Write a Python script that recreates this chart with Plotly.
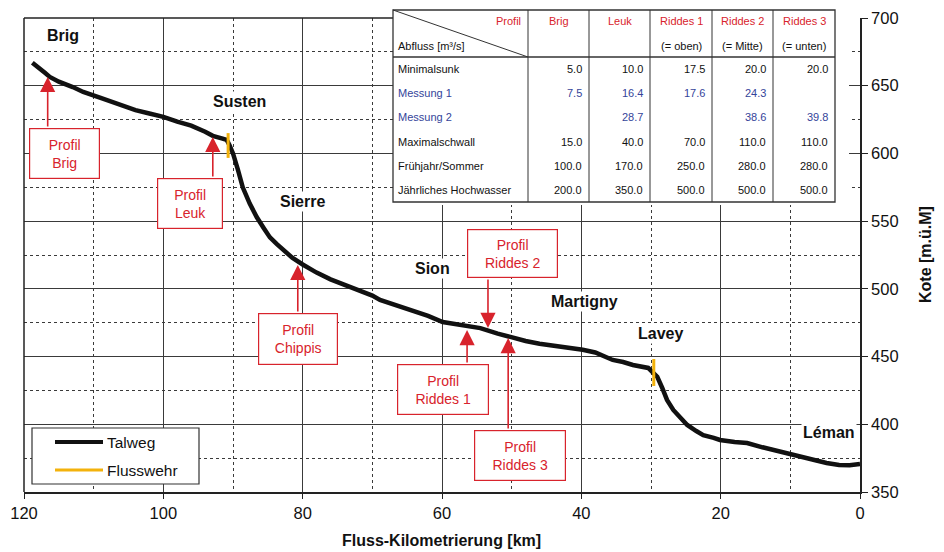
import plotly.graph_objects as go

# ---------------- data ----------------
talweg_km = [118.8, 118.0, 117.0, 116.3, 115.0, 113.0, 111.5, 109.0, 106.6, 104.0, 102.0, 100.0,
             98.0, 96.0, 94.0, 92.9, 91.5, 90.9, 90.5, 90.0, 89.3, 88.6, 87.6, 86.6, 85.6, 84.7,
             83.7, 82.8, 81.5, 80.0, 78.0, 76.0, 74.0, 72.0, 70.0, 68.9, 66.0, 64.2, 62.0, 59.9,
             58.0, 56.0, 54.5, 52.0, 49.8, 48.0, 46.0, 44.0, 42.0, 39.8, 38.0, 36.0, 35.5, 34.0,
             32.6, 30.4, 29.6, 29.1, 28.4, 27.7, 26.8, 25.5, 24.8, 23.5, 22.5, 21.0, 20.1, 18.0,
             16.2, 14.0, 12.5, 10.0, 8.6, 6.5, 4.8, 3.0, 1.5, 0.0]
talweg_elev = [667.0, 664.0, 659.5, 656.5, 653.0, 649.0, 645.4, 641.0, 636.6, 632.0, 629.5, 627.0,
               623.5, 620.5, 616.0, 613.0, 611.0, 610.0, 606.0, 600.0, 588.0, 575.0, 563.0, 553.0,
               545.0, 538.0, 533.0, 528.7, 523.0, 518.0, 512.0, 507.0, 503.0, 499.0, 495.0, 491.8,
               487.0, 484.4, 480.0, 475.5, 474.0, 473.0, 471.0, 467.0, 463.7, 461.5, 459.5, 458.3,
               456.5, 455.0, 453.0, 449.0, 447.5, 446.0, 443.8, 441.6, 438.0, 435.0, 427.0, 418.0,
               410.6, 403.0, 399.5, 395.0, 392.0, 390.0, 388.4, 387.0, 386.2, 383.0, 381.0, 378.0,
               375.9, 373.5, 371.4, 370.0, 369.8, 370.7]

weir_km = [90.7, 29.6]
weir_top = [615.0, 448.2]
weir_bottom = [596.7, 428.3]

towns = ["Brig", "Susten", "Sierre", "Sion", "Martigny", "Lavey", "Léman"]
town_km = [114.4, 89.0, 80.0, 61.4, 39.5, 28.7, 4.45]
town_elev = [686.8, 638.0, 564.2, 515.4, 490.3, 467.4, 394.3]

profile_names = ["Brig", "Leuk", "Chippis", "Riddes 1", "Riddes 2", "Riddes 3"]
profile_km = [116.6, 92.9, 80.7, 56.4, 53.4, 50.5]
profile_tip = [656.5, 612.2, 517.7, 469.6, 471.1, 463.7]

table_cols = ["Brig", "Leuk", "Riddes 1", "Riddes 2", "Riddes 3"]
table_subs = ["", "", "(= oben)", "(= Mitte)", "(= unten)"]
table_rows = ["Minimalsunk", "Messung 1", "Messung 2", "Maximalschwall",
              "Frühjahr/Sommer", "Jährliches Hochwasser"]
row_minimalsunk = [5.0, 10.0, 17.5, 20.0, 20.0]
row_messung1 = [7.5, 16.4, 17.6, 24.3, None]
row_messung2 = [None, 28.7, None, 38.6, 39.8]
row_maximalschwall = [15.0, 40.0, 70.0, 110.0, 110.0]
row_fruehjahr = [100.0, 170.0, 250.0, 280.0, 280.0]
row_hochwasser = [200.0, 350.0, 500.0, 500.0, 500.0]
table_values = [row_minimalsunk, row_messung1, row_messung2,
                row_maximalschwall, row_fruehjahr, row_hochwasser]

x_ticks = [120, 100, 80, 60, 40, 20, 0]
y_ticks = [350, 400, 450, 500, 550, 600, 650, 700]
x_title = "Fluss-Kilometrierung [km]"
y_title = "Kote [m.ü.M]"

# ---------------- style / layout helpers ----------------
W, H = 944, 552
L, R, T, B = 24, 860, 18, 492
FONT = "Arial, Liberation Sans, sans-serif"
RED = "#d8232c"
BLUE = "#34449a"
DARK = "#111111"
ORANGE = "#f3b20c"
GRID = "#3a3a3a"


def px(xp):
    return (xp - L) / (R - L)


def py(yp):
    return (B - yp) / (B - T)


fig = go.Figure()
fig.add_trace(go.Scatter(x=talweg_km, y=talweg_elev, mode="lines", name="Talweg",
                         line=dict(color="#111111", width=4.5), showlegend=False))
wx, wy = [], []
for k, t, b in zip(weir_km, weir_top, weir_bottom):
    wx += [k, k, None]
    wy += [t, b, None]
fig.add_trace(go.Scatter(x=wx, y=wy, mode="lines", name="Flusswehr",
                         line=dict(color=ORANGE, width=3), showlegend=False))

shapes = []
annotations = []

# white area behind "Sierre" (covers grid, below the curve)
shapes.append(dict(type="rect", xref="paper", yref="paper", layer="between",
                   x0=px(257), x1=px(392), y0=py(221), y1=py(154),
                   fillcolor="white", line=dict(width=0)))

# frame (left and top border)
shapes.append(dict(type="line", xref="paper", yref="paper", x0=0, x1=0, y0=0, y1=1,
                   line=dict(color="#222", width=1.5), layer="above"))
shapes.append(dict(type="line", xref="paper", yref="paper", x0=0, x1=px(393), y0=1, y1=1,
                   line=dict(color="#222", width=1.5), layer="above"))

# ---------------- table ----------------
col_edges = [393, 528, 589, 650, 712, 773, 835]
t_top, t_head, t_bot = 10, 57, 202
row_h = (t_bot - t_head) / len(table_rows)
shapes.append(dict(type="rect", xref="paper", yref="paper", layer="above",
                   x0=px(393), x1=px(849), y0=py(205), y1=py(8),
                   fillcolor="white", line=dict(width=0)))
shapes.append(dict(type="rect", xref="paper", yref="paper", layer="above",
                   x0=px(col_edges[0]), x1=px(col_edges[-1]), y0=py(t_bot), y1=py(t_top),
                   fillcolor="rgba(0,0,0,0)", line=dict(color="#333", width=1.3)))
for e in col_edges[1:-1]:
    shapes.append(dict(type="line", xref="paper", yref="paper", layer="above",
                       x0=px(e), x1=px(e), y0=py(t_bot), y1=py(t_top),
                       line=dict(color="#333", width=1)))
shapes.append(dict(type="line", xref="paper", yref="paper", layer="above",
                   x0=px(col_edges[0]), x1=px(col_edges[-1]), y0=py(t_head), y1=py(t_head),
                   line=dict(color="#333", width=1.3)))
shapes.append(dict(type="line", xref="paper", yref="paper", layer="above",
                   x0=px(col_edges[0]), x1=px(col_edges[1]), y0=py(t_top), y1=py(t_head),
                   line=dict(color="#333", width=1)))

TF = 11


def tab_text(text, xp, yp, anchor, color=DARK):
    annotations.append(dict(text=text, xref="paper", yref="paper", x=px(xp), y=py(yp),
                            xanchor=anchor, yanchor="middle", showarrow=False,
                            font=dict(family=FONT, size=TF, color=color)))


tab_text("Profil", col_edges[1] - 5, 21, "right", RED)
tab_text("Abfluss [m³/s]", col_edges[0] + 3, 46, "left")
for i, (c, s) in enumerate(zip(table_cols, table_subs)):
    cx = (col_edges[i + 1] + col_edges[i + 2]) / 2
    tab_text(c, cx, 21, "center", RED)
    if s:
        tab_text(s, cx, 46, "center")
for r, (name, vals) in enumerate(zip(table_rows, table_values)):
    yc = t_head + row_h * (r + 0.5)
    color = BLUE if name.startswith("Messung") else DARK
    tab_text(name, col_edges[0] + 3, yc, "left", color)
    for i, v in enumerate(vals):
        if v is not None:
            tab_text(f"{v:.1f}", col_edges[i + 2] - 5, yc, "right", color)

# ---------------- legend ----------------
shapes.append(dict(type="rect", xref="paper", yref="paper", layer="above",
                   x0=px(32), x1=px(199), y0=py(484), y1=py(428),
                   fillcolor="white", line=dict(color="#333", width=1.2)))
shapes.append(dict(type="line", xref="paper", yref="paper", layer="above",
                   x0=px(55), x1=px(103), y0=py(442), y1=py(442),
                   line=dict(color="#111", width=4)))
shapes.append(dict(type="line", xref="paper", yref="paper", layer="above",
                   x0=px(55), x1=px(103), y0=py(470), y1=py(470),
                   line=dict(color=ORANGE, width=3)))
for name, yy in (("Talweg", 442), ("Flusswehr", 470)):
    annotations.append(dict(text=name, xref="paper", yref="paper", x=px(105), y=py(yy),
                            xanchor="left", yanchor="middle", showarrow=False,
                            font=dict(family=FONT, size=15.5, color=DARK)))

# ---------------- town labels ----------------
for name, k, e in zip(towns, town_km, town_elev):
    annotations.append(dict(text=f"<b>{name}</b>", x=k, y=e, xref="x", yref="y",
                            showarrow=False, bgcolor="white", borderpad=1,
                            font=dict(family=FONT, size=16, color=DARK)))

# ---------------- profile boxes and arrows ----------------
# (box centre km, box centre elev, box w, box h, arrow start elev)
box_layout = {
    "Brig": (114.2, 600.0, 71, 51, 618.8),
    "Leuk": (96.2, 563.0, 66, 51, 581.9),
    "Chippis": (80.7, 463.0, 80, 52, 482.2),
    "Riddes 1": (59.9, 425.7, 92, 51, 444.5),
    "Riddes 2": (49.9, 526.1, 91, 49, 508.0),
    "Riddes 3": (48.8, 377.0, 92, 51, 395.8),
}
for name, k, tip in zip(profile_names, profile_km, profile_tip):
    bx, by, bw, bh, start = box_layout[name]
    annotations.append(dict(text="", x=k, y=tip, ax=k, ay=start, xref="x", yref="y",
                            axref="x", ayref="y", showarrow=True, arrowhead=2,
                            arrowsize=1.9, arrowwidth=1.6, arrowcolor=RED, standoff=0))
    annotations.append(dict(text=f"Profil<br>{name}", x=bx, y=by, xref="x", yref="y",
                            showarrow=False, bgcolor="white", bordercolor=RED,
                            borderwidth=1.2, borderpad=0, width=bw - 2, height=bh - 2,
                            align="center", valign="middle",
                            font=dict(family=FONT, size=14, color=RED)))

# ---------------- axis titles ----------------
annotations.append(dict(text=f"<b>{x_title}</b>", xref="paper", yref="paper",
                        x=px(441), y=py(540), xanchor="center", yanchor="middle",
                        showarrow=False, font=dict(family=FONT, size=16, color=DARK)))
annotations.append(dict(text=f"<b>{y_title}</b>", xref="paper", yref="paper",
                        x=px(925), y=py(255), xanchor="center", yanchor="middle",
                        textangle=-90, showarrow=False,
                        font=dict(family=FONT, size=16, color=DARK)))

fig.update_layout(
    width=W, height=H,
    margin=dict(l=L, r=W - R, t=T, b=H - B, autoexpand=False),
    paper_bgcolor="white", plot_bgcolor="white",
    showlegend=False,
    font=dict(family=FONT, color=DARK),
    shapes=shapes, annotations=annotations,
    xaxis=dict(range=[120, 0], tickvals=x_ticks, ticktext=[str(v) for v in x_ticks],
               automargin=False,
               showgrid=True, gridcolor=GRID, gridwidth=1,
               minor=dict(dtick=10, tick0=0, showgrid=True, gridcolor=GRID, griddash="dot",
                          gridwidth=1),
               ticks="outside", ticklen=5, tickcolor="#222",
               showline=True, linecolor="#222", linewidth=1.5, zeroline=False,
               tickfont=dict(family=FONT, size=16.5, color=DARK)),
    yaxis=dict(range=[350, 700], side="right", tickvals=y_ticks, automargin=False,
               showgrid=True, gridcolor=GRID, gridwidth=1,
               minor=dict(dtick=25, tick0=0, showgrid=True, gridcolor=GRID, griddash="dot",
                          gridwidth=1),
               ticks="outside", ticklen=6, tickcolor="#222",
               showline=True, linecolor="#222", linewidth=1.5, zeroline=False,
               tickfont=dict(family=FONT, size=16.5, color=DARK)),
)

fig.write_html("out.html", config={"displayModeBar": False},
               post_script="document.body.style.margin='0';document.body.style.padding='0';")
